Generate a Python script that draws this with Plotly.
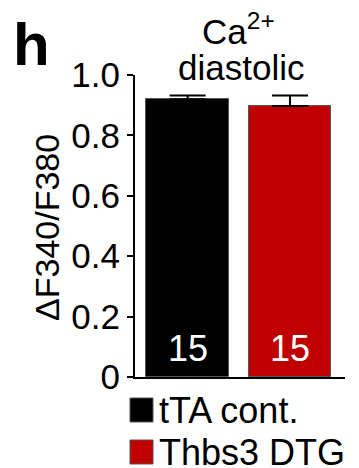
import plotly.graph_objects as go

# ---- data ----
groups = ["tTA cont.", "Thbs3 DTG"]
means = [0.920, 0.897]
sems = [0.012, 0.035]
n_labels = ["15", "15"]
colors = ["#000000", "#C00000"]
tick_vals = [0, 0.2, 0.4, 0.6, 0.8, 1.0]
tick_text = ["0", "0.2", "0.4", "0.6", "0.8", "1.0"]

W, H = 359, 468
L, R, T, B = 135, 14, 75, 91
FONT = "Liberation Sans, Arial, Helvetica, sans-serif"

def px(x):
    return (x - L) / (W - L - R)

def py(y):
    return (H - B - y) / (H - T - B)

def ann(x, y, text, size, **kw):
    d = dict(x=px(x), y=py(y), xref="paper", yref="paper", text=text, showarrow=False,
             xanchor="center", yanchor="middle", borderpad=0,
             font=dict(family=FONT, size=size, color="black"))
    d.update(kw)
    return d

fig = go.Figure()
fig.add_trace(go.Bar(
    x=[0, 1], y=means, width=0.81,
    marker=dict(color=colors, line=dict(color="#555555", width=1)),
    error_y=dict(type="data", symmetric=False, array=sems, arrayminus=[0, 0],
                 color="black", thickness=2, width=18),
    showlegend=False,
    hoverinfo="skip",
))

annotations = []
for i, t in enumerate(n_labels):
    annotations.append(dict(x=i, y=0.095, xref="x", yref="y", text=t, showarrow=False,
                            xanchor="center", yanchor="middle",
                            font=dict(family=FONT, size=36, color="white")))

annotations.append(ann(31, 44, "<b>h</b>", 60))
annotations.append(ann(238, 29, "Ca<sup>2+</sup>", 35))
annotations.append(ann(241, 67, "diastolic", 35))
annotations.append(ann(47, 228, "ΔF340/F380", 34, textangle=-90))

shapes = []
for i, g in enumerate(groups):
    top = 398 + i * 42
    shapes.append(dict(type="rect", xref="paper", yref="paper",
                       x0=px(130), x1=px(153), y0=py(top), y1=py(top + 24),
                       fillcolor=colors[i], line=dict(color="#555555", width=1)))
    annotations.append(ann(158, top + 12, g, 36, xanchor="left"))

fig.update_layout(
    width=W, height=H,
    margin=dict(l=L, r=R, t=T, b=B),
    paper_bgcolor="white", plot_bgcolor="white",
    bargap=0,
    xaxis=dict(range=[-0.514, 1.537], showline=True, linecolor="black", linewidth=2,
               showticklabels=False, ticks="", showgrid=False, zeroline=False, fixedrange=True),
    yaxis=dict(range=[0, 1.0], showline=True, linecolor="black", linewidth=2,
               tickvals=tick_vals, ticktext=tick_text, ticks="outside", ticklen=6,
               tickwidth=2, tickcolor="black", showgrid=False, zeroline=False,
               fixedrange=True, automargin=False,
               tickfont=dict(family=FONT, size=35, color="black")),
    annotations=annotations, shapes=shapes,
    showlegend=False,
)

fig.write_html("out.html", config={"displayModeBar": False},
               post_script="document.body.style.margin='0';")
